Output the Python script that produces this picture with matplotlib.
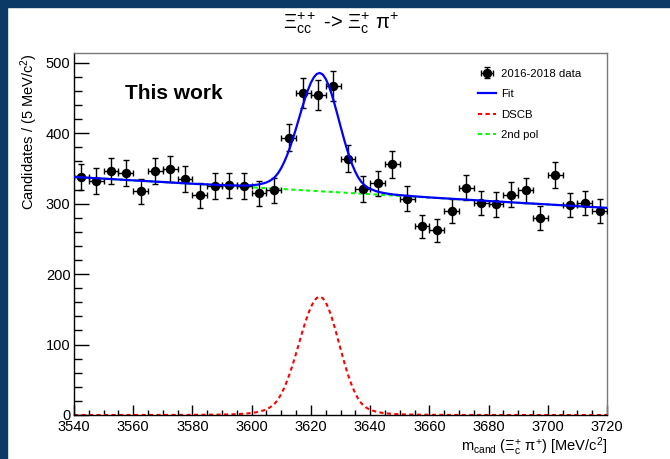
import numpy as np
import matplotlib
matplotlib.use('Agg')
import matplotlib.pyplot as plt
from matplotlib.lines import Line2D
from matplotlib.patches import Rectangle
from matplotlib.ticker import MultipleLocator


# data points (5 MeV bins)
bin_centers = [3542.5, 3547.5, 3552.5, 3557.5, 3562.5, 3567.5, 3572.5, 3577.5, 3582.5,
               3587.5, 3592.5, 3597.5, 3602.5, 3607.5, 3612.5, 3617.5, 3622.5, 3627.5,
               3632.5, 3637.5, 3642.5, 3647.5, 3652.5, 3657.5, 3662.5, 3667.5, 3672.5,
               3677.5, 3682.5, 3687.5, 3692.5, 3697.5, 3702.5, 3707.5, 3712.5, 3717.5]
counts = [338, 332, 346, 344, 318, 346, 349, 335, 312, 325, 326, 325,
          315, 319, 394, 457, 454, 467, 364, 321, 329, 356, 307,
          268, 262, 289, 323, 301, 299, 313, 319, 280, 341, 298, 301, 290]
count_errors = [18.4, 18.2, 18.6, 18.5, 17.8, 18.6, 18.7, 18.3, 17.7, 18.0, 18.1, 18.0,
                17.7, 17.9, 19.8, 21.4, 21.3, 21.6, 19.1, 17.9, 18.1, 18.9, 17.5,
                16.4, 16.2, 17.0, 18.0, 17.3, 17.3, 17.7, 17.9, 16.7, 18.5, 17.3, 17.3, 17.0]
bin_half_width = 2.5

# fit components
fit_mass = [3540, 3550, 3560, 3570, 3580, 3590, 3595, 3598, 3600, 3602, 3604,
            3605, 3606, 3607, 3608, 3609, 3610, 3611, 3612, 3613, 3614, 3615,
            3616, 3617, 3618, 3619, 3620, 3621, 3622, 3623, 3624, 3625, 3626,
            3627, 3628, 3629, 3630, 3631, 3632, 3633, 3634, 3635, 3636, 3637,
            3638, 3639, 3640, 3642, 3644, 3646, 3648, 3650, 3655, 3660, 3670,
            3680, 3690, 3700, 3710, 3720]
dscb_curve = [0.0, 0.0, 0.05, 0.1, 0.17, 0.58, 1.2, 2.0, 2.8, 4.2, 6.5,
              8.1, 10.3, 13.2, 17.2, 22.7, 29.9, 38.6, 48.9, 60.5, 73.5, 87.4,
              101.9, 116.4, 130.2, 142.7, 153.3, 161.3, 166.3, 168.0, 166.0, 160.2, 151.0,
              139.0, 124.9, 109.7, 94.1, 78.8, 64.4, 51.4, 40.1, 30.5, 22.7, 16.9,
              12.7, 9.7, 7.6, 4.7, 3.1, 2.1, 1.4, 1.0, 0.5, 0.25, 0.08,
              0.03, 0.0, 0.0, 0.0, 0.0]
background_curve = [338.0, 335.6, 333.1, 330.7, 328.2, 325.8, 324.6, 323.8, 323.4, 322.9, 322.4,
                    322.1, 321.9, 321.6, 321.4, 321.2, 320.9, 320.7, 320.4, 320.2, 319.9, 319.7,
                    319.5, 319.2, 319.0, 318.7, 318.5, 318.2, 318.0, 317.7, 317.5, 317.2, 317.0,
                    316.8, 316.5, 316.3, 316.0, 315.8, 315.5, 315.3, 315.0, 314.8, 314.6, 314.3,
                    314.1, 313.8, 313.6, 313.1, 312.6, 312.1, 311.6, 311.2, 310.0, 308.7, 306.3,
                    303.8, 301.4, 299.0, 296.5, 294.1]

fit_total = np.array(background_curve) + np.array(dscb_curve)


plt.rcParams.update({
    'font.family': 'Liberation Sans',
    'mathtext.fontset': 'custom',
    'mathtext.rm': 'Liberation Sans',
    'mathtext.it': 'Liberation Sans',
    'mathtext.bf': 'Liberation Sans:bold',
    'mathtext.default': 'regular',
})

fig = plt.figure(figsize=(6.7, 4.59), dpi=100)
fig.set_facecolor('white')
ax = fig.add_axes([74 / 670, 44 / 459, 533 / 670, 362 / 459])

ax.plot(fit_mass, dscb_curve, color='#ff0000', lw=1.5, dashes=(2, 1.6), zorder=2)
ax.plot(fit_mass, background_curve, color='#00ff00', lw=1.5, dashes=(2, 1.6), zorder=2)
data = ax.errorbar(bin_centers, counts, xerr=bin_half_width, yerr=count_errors,
                   fmt='o', color='black', ms=5.8, elinewidth=1.0,
                   capsize=2, capthick=1.0, zorder=3)
fit_line, = ax.plot(fit_mass, fit_total, color='#0000ff', lw=1.6, zorder=4)

ax.set_xlim(3540, 3720)
ax.set_ylim(0, 514)

ax.xaxis.set_major_locator(MultipleLocator(20))
ax.xaxis.set_minor_locator(MultipleLocator(5))
ax.yaxis.set_major_locator(MultipleLocator(100))
ax.yaxis.set_minor_locator(MultipleLocator(20))

ax.tick_params(axis='x', which='major', direction='in', length=7.5, width=1, pad=3.5, labelsize=10.5)
ax.tick_params(axis='x', which='minor', direction='in', length=3.7, width=1)
ax.tick_params(axis='y', which='major', direction='in', length=11, width=1, pad=2.5, labelsize=10.5)
ax.tick_params(axis='y', which='minor', direction='in', length=6, width=1)

for side in ['top', 'right']:
    ax.spines[side].set_color('#7a7a7a')
    ax.spines[side].set_linewidth(1.0)
for side in ['left', 'bottom']:
    ax.spines[side].set_color('black')
    ax.spines[side].set_linewidth(1.0)

ax.set_xlabel(r'm$_{cand}$ ($\Xi_{c}^{+}$ $\pi^{+}$) [MeV/c$^{2}$]', fontsize=10.5, loc='right')
ax.set_ylabel('Candidates / (5 MeV/c$^{2}$)', fontsize=10.5, loc='top')
ax.yaxis.set_label_coords(-0.064, 1.0)
ax.xaxis.set_label_coords(1.0, -0.056)

ax.text(0.0957, 0.8895, 'This work', transform=ax.transAxes, fontsize=15,
        fontweight='bold', ha='left', va='center')

handles = [data,
           Line2D([], [], color='#0000ff', lw=1.6),
           Line2D([], [], color='#ff0000', lw=1.5, dashes=(2, 1.6)),
           Line2D([], [], color='#00ff00', lw=1.5, dashes=(2, 1.6))]
labels = ['2016-2018 data', 'Fit', 'DSCB', '2nd pol']
ax.legend(handles, labels, loc='upper left', bbox_to_anchor=(0.758, 0.957),
          frameon=False, fontsize=8.2, borderpad=0, borderaxespad=0,
          handlelength=1.6, handletextpad=0.45, labelspacing=0.92)

fig.text(341 / 670, 1 - 23 / 459, r'$\Xi_{cc}^{++}$ -> $\Xi_{c}^{+}$ $\pi^{+}$',
         ha='center', va='center', fontsize=14.5)

# dark frame strips on the left and top edge
fig.add_artist(Rectangle((0, 0), 7 / 670, 1, transform=fig.transFigure,
                         color='#0b3a66', zorder=10))
fig.add_artist(Rectangle((0, 1 - 7 / 459), 1, 7 / 459, transform=fig.transFigure,
                         color='#0b3a66', zorder=10))

fig.savefig('out.png', dpi=100, facecolor='white')
